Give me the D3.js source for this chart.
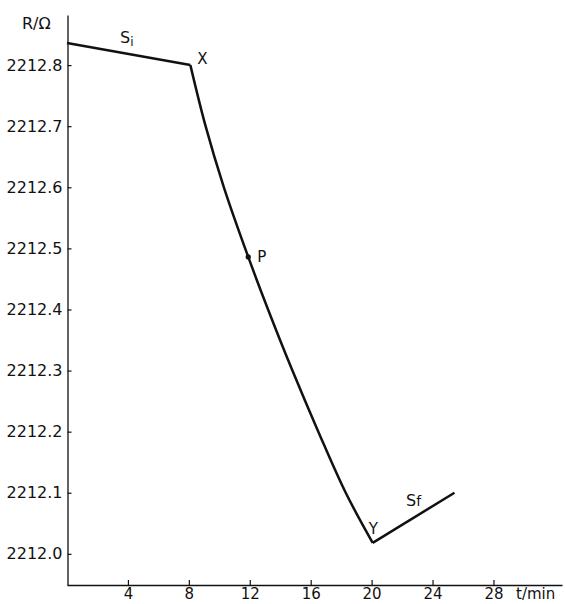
<!DOCTYPE html>
<html>
<head>
<meta charset="utf-8">
<script src="https://cdn.jsdelivr.net/npm/d3@7"></script>
<style>
  body { margin: 0; background: #fff; }
  svg text { font-family: "DejaVu Sans", sans-serif; fill: #111; }
</style>
</head>
<body>
<svg id="chart" width="565" height="604"></svg>
<script>
// resistance trace: t in minutes, R in ohms
let times = [0, 8.1, 9.1, 10.3, 11.9, 13.2, 14.8, 16.5, 18.3, 20.07, 25.44];
let resist = [2212.836, 2212.80, 2212.70, 2212.60, 2212.486, 2212.40, 2212.30, 2212.20, 2212.10, 2212.018, 2212.100];
let xTicks = [4, 8, 12, 16, 20, 24, 28];
let yTicks = [2212.0, 2212.1, 2212.2, 2212.3, 2212.4, 2212.5, 2212.6, 2212.7, 2212.8];

// labelled points
let marks = [
    {name: "X", t: 8.1, r: 2212.80},
    {name: "P", t: 11.9, r: 2212.486},
    {name: "Y", t: 20.07, r: 2212.018}
];

let data = times.map((t, i) => ({t: t, r: resist[i]}));
// before X, X..Y (the smooth drop), after Y
let iX = 1, iY = 9;
let pieces = [
    {pts: data.slice(0, iX + 1), curve: d3.curveLinear},
    {pts: data.slice(iX, iY + 1), curve: d3.curveCatmullRom.alpha(0.5)},
    {pts: data.slice(iY), curve: d3.curveLinear}
];

let svg = d3.select("#chart");

let xScale = d3.scaleLinear()
    .domain([0, 32.5])
    .range([67, 562]);

let yScale = d3.scaleLinear()
    .domain([2211.949, 2212.882])
    .range([585, 15]);

// x axis, ticks pointing up into the plot
let xAxis = d3.axisBottom(xScale)
    .tickValues(xTicks)
    .tickSizeInner(-5)
    .tickSizeOuter(0)
    .tickPadding(3)
    .tickFormat(d3.format("d"));
let xg = svg.append("g")
    .attr("transform", "translate(0,585)")
    .call(xAxis);

// y axis, ticks pointing right into the plot
let yAxis = d3.axisLeft(yScale)
    .tickValues(yTicks)
    .tickSizeInner(-4)
    .tickSizeOuter(0)
    .tickPadding(5)
    .tickFormat(d3.format(".1f"));
let yg = svg.append("g")
    .attr("transform", "translate(67.5,0)")
    .call(yAxis);

[xg, yg].forEach(g => {
    g.select(".domain").attr("stroke", "#111").attr("stroke-width", 1.3);
    g.selectAll(".tick line").attr("stroke", "#111").attr("stroke-width", 1.2);
    g.selectAll("text").attr("font-size", 16).attr("fill", "#111");
});
xg.selectAll("text").attr("font-size", 15);

// axis titles
svg.append("text")
    .attr("x", 516).attr("y", 599)
    .attr("font-size", 15)
    .text("t/min");

svg.append("text")
    .attr("x", 22).attr("y", 29)
    .attr("font-size", 16)
    .text("R/Ω");

// the trace
let line = d3.line()
    .x(d => xScale(d.t))
    .y(d => yScale(d.r));

svg.selectAll(".trace")
    .data(pieces)
    .enter()
    .append("path")
    .attr("class", "trace")
    .attr("d", p => line.curve(p.curve)(p.pts))
    .attr("fill", "none")
    .attr("stroke", "#111")
    .attr("stroke-width", 2.5)
    .attr("stroke-linejoin", "miter");

// dot at P
svg.append("circle")
    .attr("cx", xScale(marks[1].t))
    .attr("cy", yScale(marks[1].r))
    .attr("r", 2.6)
    .attr("fill", "#111");

// point labels
let offsets = {X: [7, -1], P: [9, 5], Y: [-4, -9]};
svg.selectAll(".mark")
    .data(marks)
    .enter()
    .append("text")
    .attr("class", "mark")
    .attr("x", d => xScale(d.t) + offsets[d.name][0])
    .attr("y", d => yScale(d.r) + offsets[d.name][1])
    .attr("font-size", 15)
    .text(d => d.name);

// segment labels
let si = svg.append("text")
    .attr("x", 120).attr("y", 43)
    .attr("font-size", 16)
    .text("S");
si.append("tspan").attr("dy", 3).attr("font-size", 12).text("i");

let sf = svg.append("text")
    .attr("x", 406).attr("y", 506)
    .attr("font-size", 16)
    .text("S");
sf.append("tspan").attr("font-size", 14).text("f");
</script>
</body>
</html>
